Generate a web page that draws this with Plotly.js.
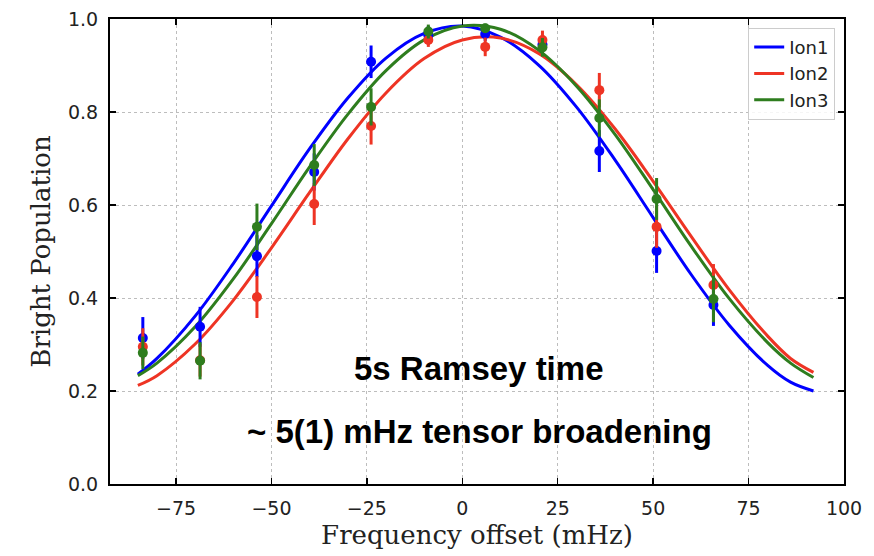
<!DOCTYPE html>
<html>
<head>
<meta charset="utf-8">
<script src="https://cdn.plot.ly/plotly-3.0.1.min.js"></script>
<style>html,body{margin:0;padding:0;background:#fff;}#chart{width:874px;height:556px;}</style>
</head>
<body>
<div id="chart"></div>
<script>
// Measured points (frequency offset, mHz)
const xPts = [-83.7, -68.7, -53.8, -38.8, -23.9, -8.9, 6.0, 21.0, 35.9, 50.9, 65.8];
const ion1Pts = [0.314, 0.338, 0.490, 0.671, 0.908, 0.965, 0.968, 0.945, 0.716, 0.501, 0.385];
const ion2Pts = [0.295, 0.266, 0.402, 0.602, 0.770, 0.955, 0.940, 0.955, 0.847, 0.553, 0.428];
const ion3Pts = [0.282, 0.265, 0.553, 0.686, 0.811, 0.973, 0.980, 0.939, 0.787, 0.613, 0.398];
const ion1Err = [0.045, 0.043, 0.045, 0.040, 0.035, 0.020, 0.015, 0.020, 0.045, 0.047, 0.045];
const ion2Err = [0.040, 0.035, 0.045, 0.045, 0.040, 0.015, 0.020, 0.020, 0.037, 0.045, 0.045];
const ion3Err = [0.035, 0.040, 0.050, 0.045, 0.040, 0.015, 0.010, 0.020, 0.040, 0.045, 0.050];

// Fitted curves
const xFit = [-85, -80, -70, -60, -50, -40, -30, -20, -10, 0, 10, 20, 30, 40, 50, 60, 70, 80, 86, 92];
const ion1Fit = [0.236, 0.270, 0.361, 0.474, 0.598, 0.721, 0.830, 0.916, 0.969, 0.985, 0.961, 0.901, 0.810, 0.697, 0.573, 0.450, 0.341, 0.255, 0.219, 0.200];
const ion2Fit = [0.212, 0.233, 0.301, 0.395, 0.508, 0.627, 0.742, 0.841, 0.915, 0.955, 0.959, 0.926, 0.858, 0.764, 0.651, 0.532, 0.417, 0.318, 0.270, 0.240];
const ion3Fit = [0.233, 0.260, 0.338, 0.441, 0.560, 0.682, 0.795, 0.889, 0.955, 0.985, 0.978, 0.933, 0.855, 0.752, 0.633, 0.511, 0.398, 0.304, 0.260, 0.229];

const names = ['Ion1', 'Ion2', 'Ion3'];
const xTicks = [-75, -50, -25, 0, 25, 50, 75, 100];
const yTicks = [0.0, 0.2, 0.4, 0.6, 0.8, 1.0];

const colors = ['#0000ff', '#ee3424', '#2e7d1e'];
const pts = [ion1Pts, ion2Pts, ion3Pts];
const errs = [ion1Err, ion2Err, ion3Err];
const fits = [ion1Fit, ion2Fit, ion3Fit];

const traces = [];
for (let i = 0; i < 3; i++) {
  traces.push({
    x: xFit, y: fits[i], type: 'scatter', mode: 'lines', name: names[i],
    line: {color: colors[i], width: 3, shape: 'spline', smoothing: 1},
    showlegend: true
  });
}
for (let i = 0; i < 3; i++) {
  traces.push({
    x: xPts, y: pts[i], type: 'scatter', mode: 'markers', name: names[i],
    marker: {color: colors[i], size: 10},
    error_y: {type: 'data', array: errs[i], visible: true, color: colors[i], thickness: 3, width: 0},
    showlegend: false
  });
}

const axisCommon = {
  showline: true, linecolor: '#000', linewidth: 2, mirror: 'ticks',
  ticks: 'inside', ticklen: 6, tickwidth: 1.5, tickcolor: '#000',
  showgrid: true, gridcolor: '#bdbdbd', griddash: 'dot', gridwidth: 1,
  zeroline: false, tickfont: {family: 'DejaVu Sans', size: 19, color: '#222'},
  ticklabelstandoff: 6, automargin: false
};

const layout = {
  width: 874, height: 556,
  margin: {l: 110, r: 30, t: 19, b: 72},
  paper_bgcolor: '#fff', plot_bgcolor: '#fff',
  xaxis: Object.assign({}, axisCommon, {
    range: [-92.3, 100], tickmode: 'array', tickvals: xTicks,
    title: {text: 'Frequency offset (mHz)', font: {family: 'DejaVu Serif', size: 26, color: '#222'}, standoff: 8}
  }),
  yaxis: Object.assign({}, axisCommon, {
    range: [0, 1], tickmode: 'array', tickvals: yTicks, tickformat: '.1f',
    title: {text: 'Bright Population', font: {family: 'DejaVu Serif', size: 26, color: '#222'}, standoff: 10}
  }),
  legend: {
    x: 0.988, xanchor: 'right', y: 0.981, yanchor: 'top',
    bgcolor: 'rgba(255,255,255,0.85)', bordercolor: '#cccccc', borderwidth: 1,
    font: {family: 'DejaVu Sans', size: 18, color: '#222'}
  },
  annotations: [
    {x: 4.2, y: 0.249, xref: 'x', yref: 'y', showarrow: false,
     text: '<b>5s Ramsey time</b>', font: {family: 'Liberation Sans', size: 33, color: '#000'}},
    {x: 4.6, y: 0.112, xref: 'x', yref: 'y', showarrow: false,
     text: '<b>~ 5(1) mHz tensor broadening</b>', font: {family: 'Liberation Sans', size: 33, color: '#000'}}
  ]
};

Plotly.newPlot('chart', traces, layout, {staticPlot: true, displayModeBar: false});
</script>
</body>
</html>
